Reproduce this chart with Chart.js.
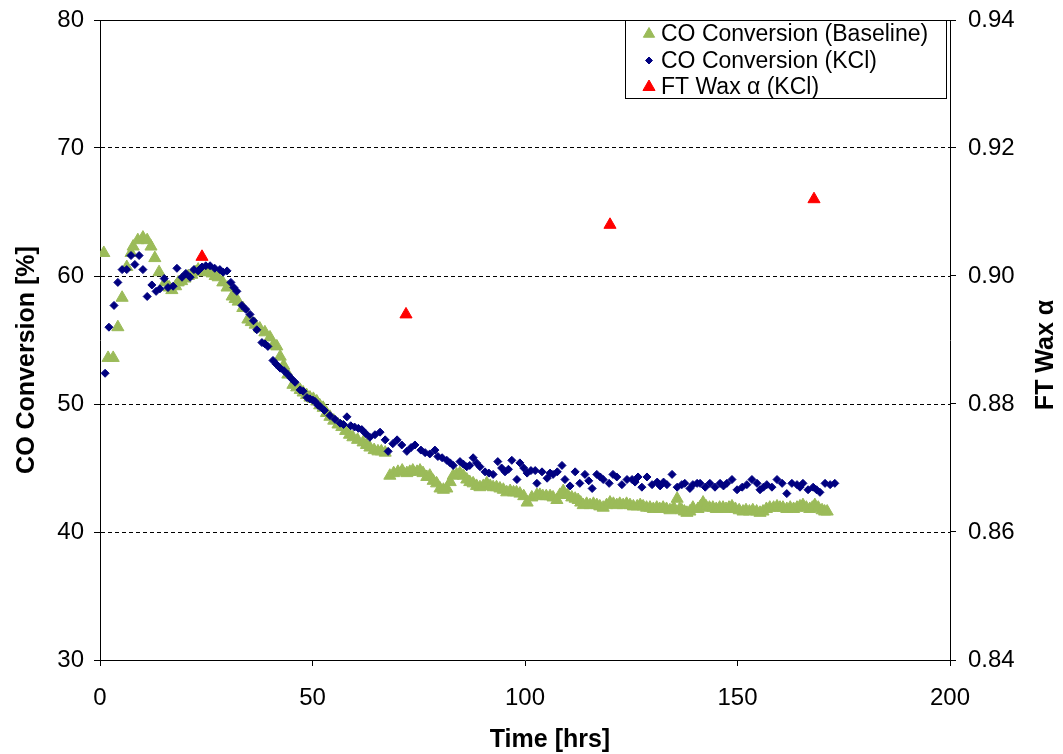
<!DOCTYPE html>
<html><head><meta charset="utf-8">
<script src="https://cdn.jsdelivr.net/npm/chart.js@4"></script>
<style>html,body{margin:0;padding:0;background:#fff;overflow:hidden}#wrap{width:1063px;height:754px}</style>
</head><body><div id="wrap"><canvas id="c" width="1063" height="754"></canvas></div>
<script>
const baselineTime = [0.9,1.9,3.1,4.2,5.2,6.3,7.3,7.8,8.9,10.1,11.1,12.0,12.9,13.9,15.3,16.3,16.9,17.8,18.4,19.2,20.0,20.8,21.6,22.4,23.1,23.9,24.7,25.5,26.4,27.1,27.8,28.9,29.9,31.1,31.8,32.5,33.6,34.8,35.6,36.5,37.6,38.8,40.0,40.8,41.6,42.4,43.2,44.2,45.4,46.3,47.1,47.8,48.6,49.4,50.2,51.0,51.7,52.5,53.3,54.1,55.0,56.0,56.9,57.8,58.7,59.5,60.6,61.9,62.7,63.5,64.5,65.4,66.2,67.1,68.2,69.1,70.1,71.1,72.2,72.9,73.6,74.6,75.3,76.0,76.9,77.6,78.4,79.2,80.0,80.8,81.6,82.4,83.1,83.9,84.7,85.5,86.3,87.0,87.8,88.6,89.4,90.2,91.0,91.8,92.5,93.3,94.1,94.9,95.7,96.5,97.3,98.0,98.8,99.7,100.5,101.6,102.8,103.5,104.2,105.0,105.9,106.6,107.5,108.2,109.0,110.0,111.0,111.8,112.5,113.1,113.7,114.5,115.3,116.1,116.9,117.6,118.4,119.2,120.0,120.8,121.6,122.3,123.1,123.9,124.7,125.5,126.4,127.1,127.8,128.6,129.4,130.2,131.0,131.7,132.5,133.3,134.1,135.0,135.8,136.4,136.9,137.5,138.1,138.8,139.5,140.7,141.3,141.9,142.6,143.4,144.2,145.0,145.8,146.6,147.3,148.0,148.7,149.5,150.4,151.3,152.0,152.8,153.6,154.5,155.3,156.0,156.8,157.6,158.5,159.3,160.0,160.7,161.6,162.4,163.2,164.0,164.7,165.4,166.2,167.0,167.6,168.2,169.0,169.9,170.5,171.1];
const baselineConv = [61.8,53.6,53.6,56.0,58.3,60.7,61.8,62.3,62.8,63.0,62.8,62.3,61.4,60.3,59.5,59.1,58.9,59.2,59.5,59.6,59.8,60.0,60.1,60.3,60.5,60.4,60.3,60.3,60.2,60.0,59.9,59.5,59.1,58.4,58.2,58.0,57.5,56.6,56.4,56.2,55.9,55.6,55.2,54.6,54.5,53.7,53.0,52.3,51.5,51.3,51.1,50.9,50.7,50.5,50.4,50.2,49.9,49.7,49.3,49.0,48.7,48.4,48.2,47.9,47.6,47.4,47.2,47.0,46.8,46.6,46.4,46.3,46.3,46.2,44.4,44.6,44.7,44.8,44.6,44.7,44.8,44.7,44.8,44.6,44.3,44.4,44.0,43.8,43.4,43.3,43.4,43.9,44.4,44.5,44.6,44.4,44.1,43.9,43.8,43.6,43.5,43.6,43.8,43.6,43.5,43.5,43.4,43.3,43.1,43.2,43.1,43.1,43.0,42.8,42.3,42.7,42.9,42.9,42.8,42.8,42.8,42.7,42.5,42.9,43.2,42.9,42.7,42.6,42.5,42.3,42.1,42.2,42.1,42.2,42.1,42.0,41.9,42.1,42.3,42.2,42.1,42.2,42.1,42.2,42.1,42.0,42.0,42.1,42.0,41.9,41.9,41.8,41.9,41.8,41.9,41.8,41.7,41.9,42.6,41.8,41.7,41.6,41.5,41.6,41.9,41.8,42.0,42.3,42.0,41.9,41.9,41.8,41.9,41.9,41.8,41.9,42.0,41.8,41.7,41.6,41.7,41.6,41.7,41.6,41.5,41.6,41.8,41.9,41.9,42.0,41.9,41.9,41.8,41.9,41.8,41.9,42.0,42.1,41.9,41.8,41.9,42.1,41.9,41.7,41.6,41.6];
const kclTime = [1.2,2.1,3.3,4.2,5.2,6.3,7.3,8.2,9.2,10.1,11.1,12.2,13.2,14.1,15.1,16.0,17.2,18.1,19.3,20.2,21.2,22.1,23.1,24.0,24.9,25.9,27.0,28.2,29.0,29.9,30.8,31.5,32.2,33.4,34.3,35.3,36.1,36.9,38.1,38.8,39.5,40.7,41.5,42.4,43.3,44.2,45.0,45.9,47.1,47.8,48.7,49.4,50.1,50.6,51.3,51.8,52.8,54.1,55.3,56.5,57.3,58.1,59.0,59.9,60.8,61.6,62.5,63.5,64.7,65.9,67.1,67.8,68.9,69.9,71.0,72.2,73.2,74.1,75.5,76.5,77.6,78.8,79.5,80.5,81.6,82.4,83.1,84.7,85.5,86.3,87.0,87.8,88.6,89.4,90.6,91.5,92.5,93.6,94.5,95.3,96.1,96.9,98.1,98.8,99.7,100.5,101.4,102.4,102.8,104.0,105.2,105.9,106.6,107.6,108.7,109.4,110.6,111.8,112.9,114.1,115.0,115.8,116.9,117.7,118.4,119.8,120.7,121.6,122.8,124.0,125.2,125.9,126.6,127.5,128.7,129.9,131.1,131.8,132.6,133.4,134.6,135.8,136.9,137.6,138.8,139.5,140.5,141.2,142.4,143.5,144.7,145.9,146.7,147.5,148.7,149.9,151.1,152.2,153.4,154.6,155.3,156.1,156.9,158.1,159.3,160.5,161.6,162.8,164.0,164.7,165.4,166.6,167.8,168.6,169.4,170.6,171.8,172.9];
const kclConv = [52.4,56.0,57.7,59.5,60.5,60.5,61.6,60.9,61.6,60.5,58.4,59.3,58.8,59.0,59.8,59.1,59.2,60.6,59.9,60.2,59.9,60.5,60.4,60.7,60.8,60.8,60.6,60.5,60.3,60.4,59.5,59.1,58.8,57.7,57.4,57.0,56.5,55.8,54.8,54.7,54.5,53.4,53.1,52.8,52.6,52.3,52.0,51.7,51.1,51.0,50.5,50.4,50.3,50.2,49.9,49.8,49.5,49.1,48.8,48.5,48.4,49.0,48.3,48.2,48.1,48.0,47.7,47.4,47.6,47.8,47.2,46.3,46.9,47.2,46.8,46.3,46.6,46.8,46.4,46.2,46.1,46.4,45.9,45.8,45.6,45.4,45.2,45.5,45.3,45.1,45.2,45.8,45.4,45.1,44.7,44.6,44.5,45.5,45.0,44.7,44.9,45.6,44.1,45.4,45.0,44.6,44.8,44.8,43.8,44.7,44.2,44.6,44.5,44.7,45.2,44.1,43.6,44.7,43.8,44.5,44.0,43.4,44.5,44.3,44.1,43.8,44.5,44.3,43.7,44.1,44.1,43.9,44.3,43.5,44.3,43.7,43.9,43.6,43.9,43.7,44.5,43.5,43.7,43.8,43.4,43.7,43.8,43.8,43.5,43.8,43.5,43.8,43.6,43.8,44.1,43.3,43.5,43.7,44.1,43.8,43.3,43.5,43.7,43.5,44.1,43.8,43.0,43.8,43.7,43.5,43.8,43.3,43.5,43.3,43.1,43.8,43.7,43.8];
const waxTime = [24, 72, 120, 168];
const waxAlpha = [0.903, 0.894, 0.908, 0.912];
const xTickValues = [0, 50, 100, 150, 200];
const yTickValues = [30, 40, 50, 60, 70, 80];
const y2TickValues = [0.84, 0.86, 0.88, 0.90, 0.92, 0.94];
const seriesNames = ['CO Conversion (Baseline)', 'CO Conversion (KCl)', 'FT Wax α (KCl)'];
const axisTitles = {x: 'Time [hrs]', y: 'CO Conversion [%]', y2: 'FT Wax α'};

const FONT = "'Liberation Sans', Arial, sans-serif";
const GREEN = '#9BBB59', NAVY = '#000080', RED = '#FF0000';
function pts(xs, ys){ return xs.map((x,i)=>({x:x, y:ys[i]})); }

const decor = {
  id: 'decor',
  afterDraw(chart){
    const ctx = chart.ctx, a = chart.chartArea;
    ctx.save();
    ctx.strokeStyle = '#000'; ctx.lineWidth = 1;
    ctx.beginPath(); ctx.moveTo(a.left, Math.round(a.top) + 0.5); ctx.lineTo(a.right, Math.round(a.top) + 0.5); ctx.stroke();
    ctx.fillStyle = '#000';
    ctx.font = "bold 25px " + FONT;
    ctx.textAlign = 'center'; ctx.textBaseline = 'middle';
    ctx.fillText(axisTitles.x, 550, 740);
    ctx.save(); ctx.translate(27, 360); ctx.rotate(-Math.PI/2); ctx.fillText(axisTitles.y, 0, 0); ctx.restore();
    ctx.save(); ctx.translate(1046, 355); ctx.rotate(-Math.PI/2); ctx.fillText(axisTitles.y2, 0, 0); ctx.restore();
    const bx = 625.5, by = 20.5, bw = 321, bh = 78;
    ctx.fillStyle = '#fff'; ctx.fillRect(bx, by, bw, bh);
    ctx.strokeStyle = '#000'; ctx.strokeRect(bx, by, bw, bh);
    const rows = [
      {style:'triangle', r:6.5, c:GREEN},
      {style:'rectRot', r:3.5, c:NAVY},
      {style:'triangle', r:7, c:RED}
    ];
    ctx.font = "23px " + FONT; ctx.textAlign = 'left'; ctx.textBaseline = 'middle';
    rows.forEach((row, i) => {
      const y = 34 + i * 26.5;
      ctx.fillStyle = row.c; ctx.strokeStyle = row.c; ctx.lineWidth = 1;
      Chart.helpers.drawPoint(ctx, {pointStyle: row.style, radius: row.r, rotation: 0, borderWidth: 1}, 649, y);
      ctx.fillStyle = '#000';
      ctx.fillText(seriesNames[i], 661, y + 1);
    });
    ctx.restore();
  }
};
function fixV(w){ return s => { s.width = w; s.paddingTop = 0; s.paddingBottom = 0; }; }

new Chart(document.getElementById('c'), {
  type: 'scatter',
  data: {
    datasets: [
      {label: seriesNames[2], data: pts(waxTime, waxAlpha), yAxisID: 'y2', pointStyle: 'triangle', radius: 7, backgroundColor: RED, borderColor: RED, borderWidth: 1},
      {label: seriesNames[1], data: pts(kclTime, kclConv), yAxisID: 'y', pointStyle: 'rectRot', radius: 4, backgroundColor: NAVY, borderColor: NAVY, borderWidth: 1},
      {label: seriesNames[0], data: pts(baselineTime, baselineConv), yAxisID: 'y', pointStyle: 'triangle', radius: 7, backgroundColor: GREEN, borderColor: GREEN, borderWidth: 1}
    ]
  },
  options: {
    responsive: false, animation: false,
    layout: {padding: {top: 20, left: 0, right: 0, bottom: 0}},
    plugins: {legend: {display: false}, tooltip: {enabled: false}},
    elements: {point: {hoverRadius: 0}},
    scales: {
      x: {
        type: 'linear', min: 0, max: 200,
        afterBuildTicks: s => { s.ticks = xTickValues.map(v => ({value: v})); },
        afterFit: s => { s.height = 94; s.paddingLeft = 0; s.paddingRight = 0; },
        ticks: {font: {family: FONT, size: 24}, color: '#000', padding: 18, maxRotation: 0},
        grid: {drawOnChartArea: false, drawTicks: true, tickLength: 6, tickColor: '#000'},
        border: {color: '#000', width: 1}
      },
      y: {
        position: 'left', min: 30, max: 80,
        afterBuildTicks: s => { s.ticks = yTickValues.map(v => ({value: v})); },
        afterFit: fixV(100),
        ticks: {font: {family: FONT, size: 24}, color: '#000', padding: 10},
        grid: {drawOnChartArea: true, drawTicks: true, tickLength: 6, tickColor: '#000',
               color: c => (c.tick && (c.tick.value === 30 || c.tick.value === 80)) ? 'rgba(0,0,0,0)' : '#000'},
        border: {color: '#000', width: 1, dash: [4, 3]}
      },
      y2: {
        position: 'right', min: 0.84, max: 0.94,
        afterBuildTicks: s => { s.ticks = y2TickValues.map(v => ({value: v})); },
        afterFit: fixV(113),
        ticks: {font: {family: FONT, size: 24}, color: '#000', padding: 12, callback: v => v.toFixed(2)},
        grid: {drawOnChartArea: false, drawTicks: true, tickLength: 6, tickColor: '#000'},
        border: {color: '#000', width: 1}
      }
    }
  },
  plugins: [decor]
});
</script></body></html>
